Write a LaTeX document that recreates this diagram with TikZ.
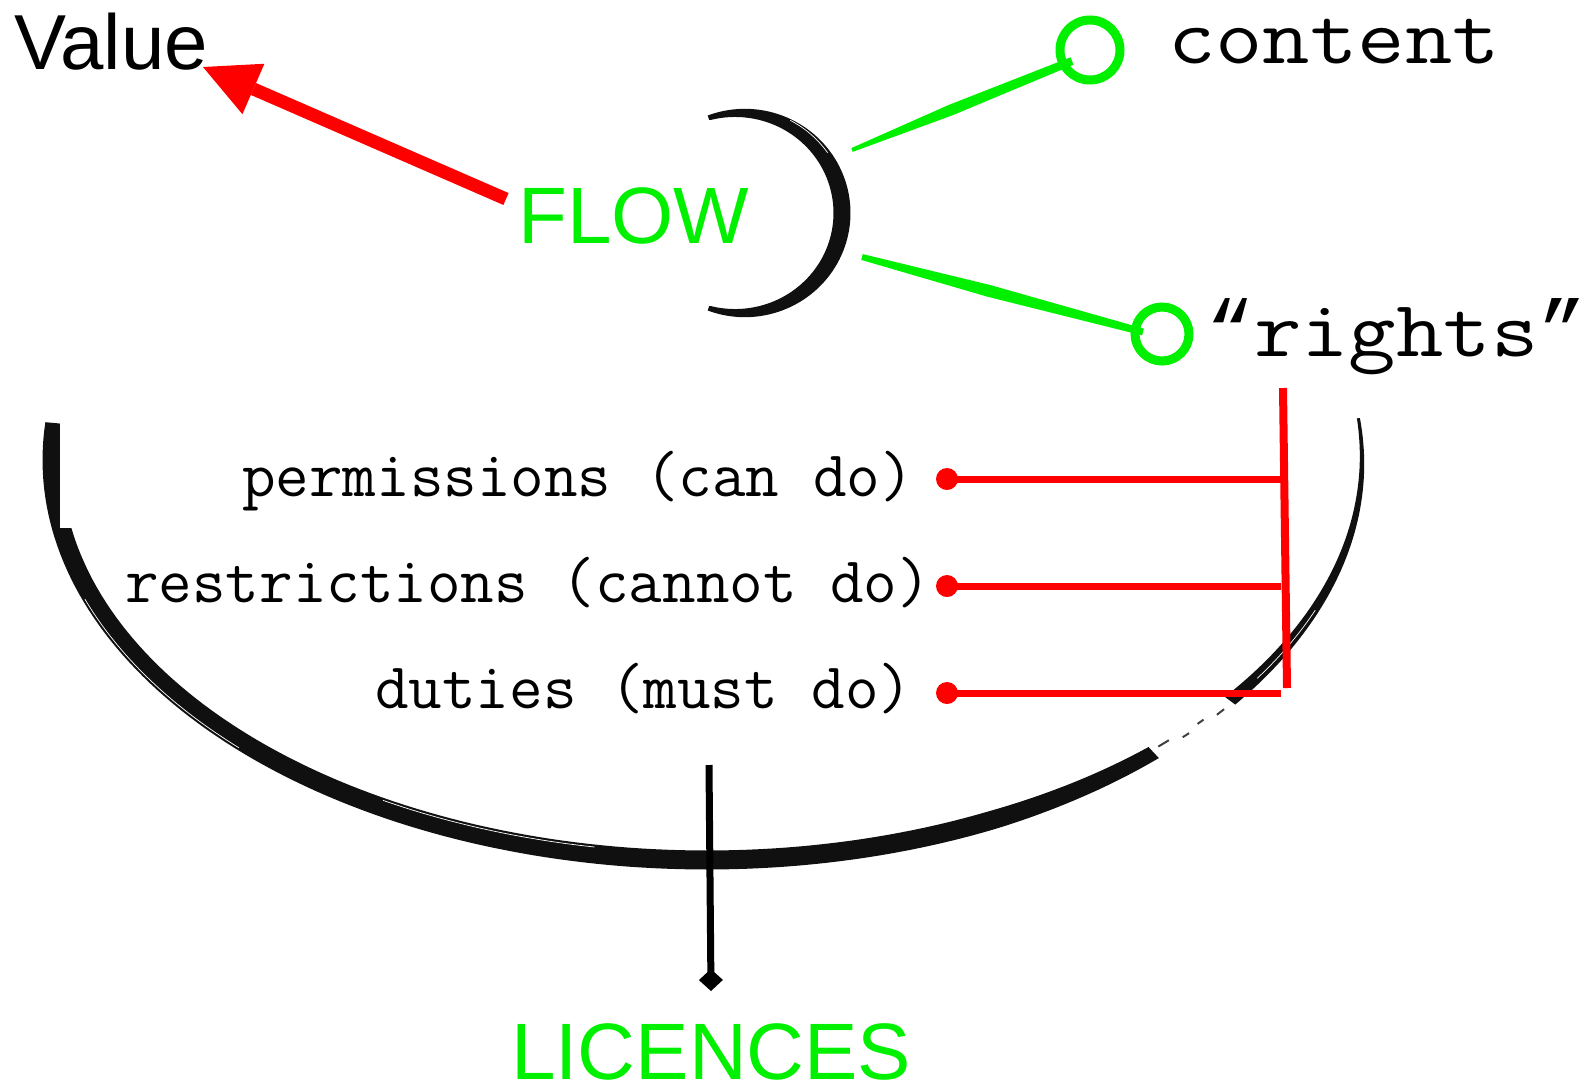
\documentclass[tikz,border=0pt]{standalone}
\usepackage{fontspec}
\usepackage{graphicx}
\newfontfamily\headfont{Liberation Sans}
\newfontfamily\codefont{Latin Modern Mono}
\newfontfamily\quotefont{Liberation Mono}
\usetikzlibrary{arrows.meta,calc}
\definecolor{flowgreen}{RGB}{0,240,0}
\definecolor{flagred}{RGB}{255,0,0}
\definecolor{brushink}{RGB}{16,16,16}
\newcommand\widecode[1]{\scalebox{1.15}[1]{#1}}
\tikzset{
  heading/.style={font=\headfont\fontsize{80}{96}\selectfont, inner sep=0pt, anchor=base west},
  bigcode/.style={font=\codefont\fontsize{80}{96}\selectfont, inner sep=0pt, anchor=base west},
  listcode/.style={font=\codefont\fontsize{65.2}{78}\selectfont, inner sep=0pt, anchor=base west},
  ring/.style={circle, draw=flowgreen, line width=9pt, inner sep=0pt},
  reddot/.style={circle, fill=flagred, minimum size=22pt, inner sep=0pt},
  redbar/.style={draw=flagred, line width=7pt},
  bristle/.style={white, line width=0.7pt},
}
\begin{document}
\begin{tikzpicture}[x=1pt, y=-1pt,
  declare function={
    bowlw(\u)=3+16*min(1,(\u+6)/70);
    brackw(\u)=5+12*cos(0.83*\u);
  }]
\useasboundingbox (0,0) rectangle (1588,1088);

% ---- the bowl: a brush stroke along a half ellipse ----
\fill[brushink]
  plot[domain=185.3:47, samples=120] ({707+(655+0.5*bowlw(\x))*cos(\x)},{460+(400+0.5*bowlw(\x))*sin(\x)})
  -- plot[domain=47:185.3, samples=120] ({707+(655-0.5*bowlw(\x))*cos(\x)},{460+(400-0.5*bowlw(\x))*sin(\x)})
  -- cycle;
\fill[brushink]
  plot[domain=37:-6, samples=50] ({707+(655+0.5*bowlw(\x))*cos(\x)},{460+(400+0.5*bowlw(\x))*sin(\x)})
  -- plot[domain=-6:37, samples=50] ({707+(655-0.5*bowlw(\x))*cos(\x)},{460+(400-0.5*bowlw(\x))*sin(\x)})
  -- cycle;
% broken bristle marks in the dry part of the stroke
\foreach \a/\b/\r in {46.2/44.9/-3, 43.6/42.8/2, 41.4/40.6/-1, 39.2/38.2/3}
  \draw[brushink!80, line width=2pt]
    plot[domain=\a:\b, samples=6] ({707+(655+\r)*cos(\x)},{460+(400+\r)*sin(\x)});
% a few dry streaks near the stroke edges
\draw[bristle] plot[domain=160:135, samples=40] ({707+(655+7)*cos(\x)},{460+(400+7)*sin(\x)});
\draw[bristle] plot[domain=120:100, samples=40] ({707+(655-7)*cos(\x)},{460+(400-7)*sin(\x)});
\draw[bristle] plot[domain=33:22, samples=30] ({707+(655+1)*cos(\x)},{460+(400+1)*sin(\x)});
% cut-outs at the upper ends of the bowl
\fill[white] (59.5,405) rectangle (120,528);
\fill[white] (1300,405) rectangle (1352,513);

% ---- the bracket round FLOW ----
\fill[brushink]
  plot[domain=-108:108, samples=90] ({740+(102+0.5*brackw(\x))*cos(\x)},{213+(100+0.5*brackw(\x))*sin(\x)})
  -- plot[domain=108:-108, samples=90] ({740+(102-0.5*brackw(\x))*cos(\x)},{213+(100-0.5*brackw(\x))*sin(\x)})
  -- cycle;
\draw[bristle] plot[domain=-62:-35, samples=30] ({740+(102+5)*cos(\x)},{213+(100+5)*sin(\x)});
\fill[white] (690,120) rectangle (759.5,306);

% ---- texts ----
\node[heading, font=\headfont\fontsize{78}{94}\selectfont] (value) at (14,69) {Value};
\node[heading, text=flowgreen] (flow) at (518,243) {FLOW};
\node[heading, text=flowgreen, text depth=0pt] (licences) at (511,1079) {LICENCES};
\node[bigcode] (content) at (1168,63) {\widecode{content}};
\node[bigcode] (rights) at (1206,356) {{\quotefont “}\widecode{rights}{\quotefont ”}};
\node[listcode] (perm) at (242,496) {permissions (can do)};
\node[listcode] (restr) at (125,602) {restrictions (cannot do)};
\node[listcode] (duties) at (375,708) {duties (must do)};

% ---- red arrow towards Value ----
\coordinate (arrowtail) at (506,199);
\coordinate (valuetip) at (203,67);
\draw[flagred, line width=13pt, -{Triangle[length=55pt,width=55pt,line width=0pt]}] (arrowtail) -- (valuetip);

% ---- green brush strokes ending in rings ----
\node[ring, minimum size=60pt] (contentring) at (1090,50) {};
\node[ring, minimum size=54pt] (rightsring) at (1162,334) {};
\coordinate (c0) at (852,150);
\coordinate (c1) at (1072,61);
\coordinate (cm) at ($(c0)!0.45!(c1)$);
\fill[flowgreen] ($(c0)!2pt!90:(c1)$) -- ($(cm)!5.5pt!90:(c1)$) -- ($(c1)!4pt!-90:(c0)$)
  -- ($(c1)!4pt!90:(c0)$) -- ($(cm)!5.5pt!-90:(c1)$) -- ($(c0)!2pt!-90:(c1)$) -- cycle;
\coordinate (r0) at (862,257);
\coordinate (r1) at (1143,332);
\coordinate (rm) at ($(r0)!0.45!(r1)$);
\fill[flowgreen] ($(r0)!3pt!90:(r1)$) -- ($(rm)!6pt!90:(r1)$) -- ($(r1)!3.5pt!-90:(r0)$)
  -- ($(r1)!3.5pt!90:(r0)$) -- ($(rm)!6pt!-90:(r1)$) -- ($(r0)!3pt!-90:(r1)$) -- cycle;

% ---- red bracket joining the three kinds of terms ----
\coordinate (bartop) at (1283,388);
\coordinate (barbot) at (1287,688);
\draw[flagred, line width=8pt] (bartop) -- (barbot);
\node[reddot] (dot1) at (947,479) {};
\node[reddot] (dot2) at (947,586) {};
\node[reddot] (dot3) at (947,693) {};
\coordinate (b1) at (1281,479);
\coordinate (b2) at (1281,586);
\coordinate (b3) at (1281,693);
\draw[redbar] (dot1.center) -- (b1);
\draw[redbar] (dot2.center) -- (b2);
\draw[redbar] (dot3.center) -- (b3);

% ---- stem down to LICENCES ----
\coordinate (stemtop) at (709,765);
\coordinate (stemtip) at (711,991);
\draw[black, line width=7pt, -{Turned Square[length=22pt,width=24pt,line width=0pt]}] (stemtop) -- (stemtip);
\end{tikzpicture}
\end{document}
